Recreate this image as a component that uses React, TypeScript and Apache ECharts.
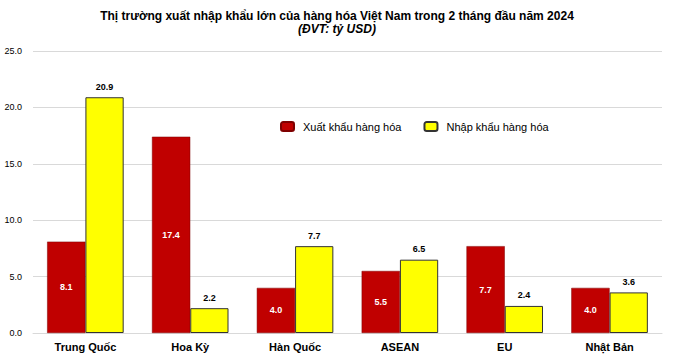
import React, { useEffect, useRef } from "react";
import * as echarts from "echarts";

const categories = ["Trung Quốc", "Hoa Kỳ", "Hàn Quốc", "ASEAN", "EU", "Nhật Bản"];
const exportValues = [8.1, 17.4, 4.0, 5.5, 7.7, 4.0];
const importValues = [20.9, 2.2, 7.7, 6.5, 2.4, 3.6];
const seriesNames = ["Xuất khẩu hàng hóa", "Nhập khẩu hàng hóa"];

export default function App() {
  const ref = useRef<HTMLDivElement>(null);
  useEffect(() => {
    if (!ref.current) return;
    const chart = echarts.init(ref.current, null, { renderer: "svg" });
    const font = "Arial, 'Liberation Sans', sans-serif";
    chart.setOption({
      animation: false,
      backgroundColor: "#fff",
      textStyle: { fontFamily: font },
      title: {
        text: "Thị trường xuất nhập khẩu lớn của hàng hóa Việt Nam trong 2 tháng đầu năm 2024",
        subtext: "(ĐVT: tỷ USD)",
        left: "center",
        top: 5,
        itemGap: 1,
        textStyle: { fontSize: 12, fontWeight: "bold", color: "#000", fontFamily: font },
        subtextStyle: { fontSize: 12, fontWeight: "bold", fontStyle: "italic", color: "#000", fontFamily: font },
      },
      legend: {
        left: 275,
        top: 116,
        itemWidth: 13,
        itemHeight: 9,
        itemGap: 22,
        data: seriesNames,
        textStyle: { fontSize: 11, color: "#000", fontFamily: font, padding: [0, 0, 0, 4] },
      },
      grid: { left: 33, right: 12, top: 51, bottom: 25 },
      xAxis: {
        type: "category",
        data: categories,
        axisLine: { lineStyle: { color: "#d9d9d9" } },
        axisTick: { show: false },
        axisLabel: { fontSize: 11, fontWeight: "bold", color: "#000", margin: 8, fontFamily: font },
      },
      yAxis: {
        type: "value",
        min: 0,
        max: 25,
        interval: 5,
        axisLabel: {
          fontSize: 9,
          color: "#000",
          margin: 11,
          fontFamily: font,
          formatter: (v: number) => v.toFixed(1),
        },
        splitLine: { lineStyle: { color: "#d9d9d9" } },
      },
      series: [
        {
          name: seriesNames[0],
          type: "bar",
          data: exportValues,
          barGap: "0%",
          barCategoryGap: "27%",
          itemStyle: { color: "#c00000", borderColor: "#7f0000", borderWidth: 0.5 },
          label: {
            show: true,
            position: "inside",
            color: "#fff",
            fontWeight: "bold",
            fontSize: 9,
            fontFamily: font,
            formatter: (p: any) => p.value.toFixed(1),
          },
        },
        {
          name: seriesNames[1],
          type: "bar",
          data: importValues,
          itemStyle: { color: "#ffff00", borderColor: "#333", borderWidth: 1 },
          label: {
            show: true,
            position: "top",
            distance: 6,
            color: "#000",
            fontWeight: "bold",
            fontSize: 9,
            fontFamily: font,
            formatter: (p: any) => p.value.toFixed(1),
          },
        },
      ],
    });
    return () => chart.dispose();
  }, []);
  return (
    <div
      ref={ref}
      style={{ position: "fixed", left: 0, top: 0, width: 674, height: 358 }}
    />
  );
}
